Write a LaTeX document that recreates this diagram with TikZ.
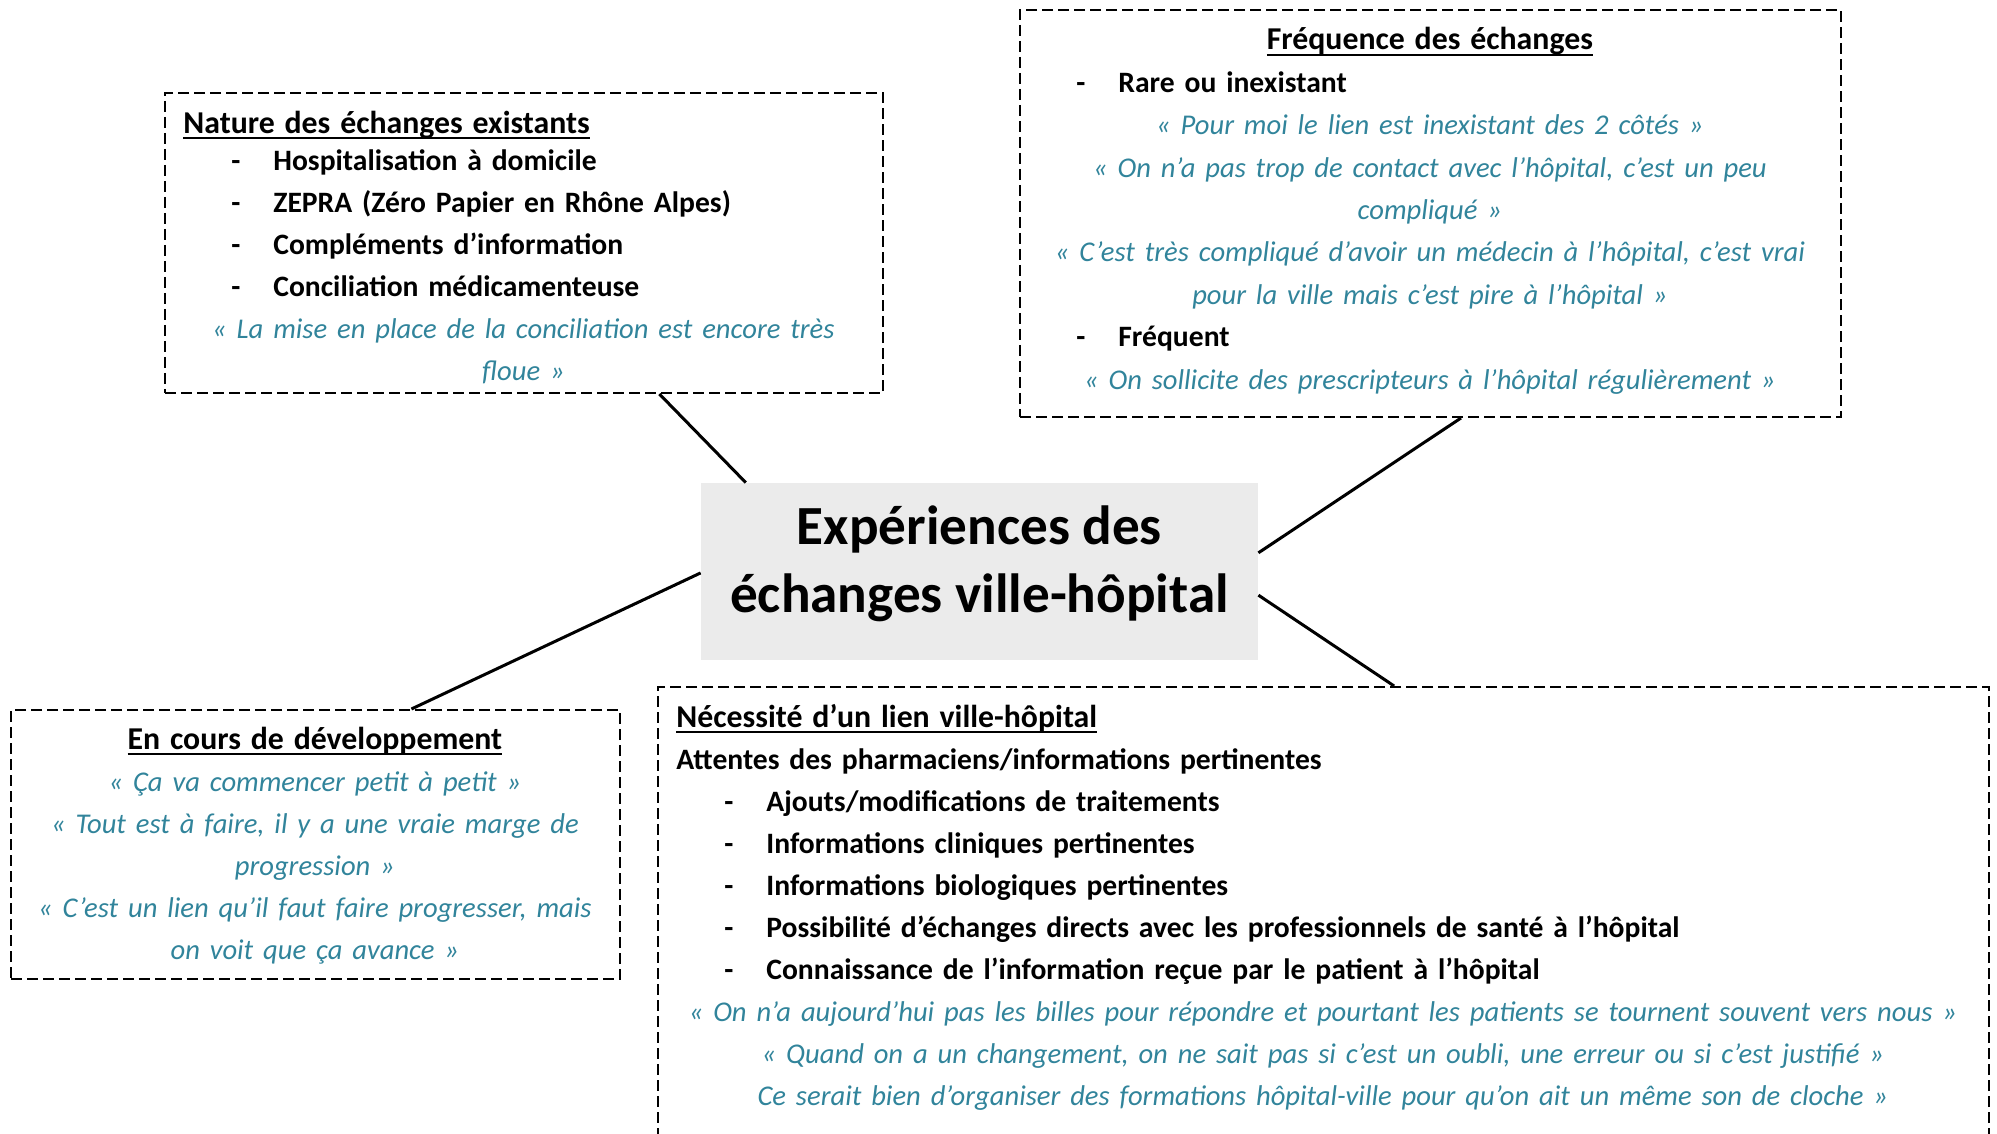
\documentclass[tikz,border=0pt]{standalone}
\usepackage{fontspec}
\setmainfont{Carlito}
\usetikzlibrary{calc}
\definecolor{citation}{HTML}{31849B}
\definecolor{fondgris}{HTML}{EBEBEB}
\frenchspacing
\newcommand\tiret[2][24pt]{\hspace*{#1}\makebox[21pt][l]{-}#2}
\newcommand\cit[1]{{\color{citation}\fontsize{14.3}{21}\mdseries\itshape\selectfont #1}}
\newcommand\cl[1]{\par\noindent\makebox[\hsize]{\cit{#1}}\par}
\newcommand\titre[1]{\leavevmode\setbox0\hbox{\fontsize{15.9}{21}\selectfont #1}\rlap{\rule[-2.8pt]{\wd0}{0.9pt}}\box0}
\newcommand\titrec[1]{\noindent\makebox[\hsize]{\titre{#1}}\par}

\begin{document}
\begin{tikzpicture}[x=0.5pt, y=-0.5pt,
  cadre/.style={draw, dash pattern=on 5.5pt off 2.5pt, line width=1pt, anchor=north west, inner sep=0pt},
  texte/.style={anchor=base west, inner sep=0pt, align=left, font=\fontsize{14.8}{21}\selectfont\bfseries},
  lien/.style={line width=1.5pt}]

  \useasboundingbox (0,0) rectangle (1997,1134);
  \clip (0,0) rectangle (1997,1134);

  % centre
  \node[fill=fondgris, minimum width=278.5pt, minimum height=88.5pt, inner sep=0pt] (centre) at (979.5,571.5) {};
  \node[align=center, inner sep=0pt, font=\fontsize{27.6}{34}\selectfont\bfseries] (centreTxt) at (979.5,563.5)
    {Expériences des\\échanges ville-hôpital};

  % nature des echanges
  \node[cadre, minimum width=359pt, minimum height=150pt] (nature) at (164,92) {};
  \node[texte, text width=340pt] (natureTxt) at (183,133.5) {%
    \titre{Nature des échanges existants}\par\vspace{-2.5pt}
    \tiret{Hospitalisation à domicile}\par
    \tiret{ZEPRA (Zéro Papier en Rhône Alpes)}\par
    \tiret{Compléments d’information}\par
    \tiret{Conciliation médicamenteuse}
    \cl{«~La mise en place de la conciliation est encore très}
    \cl{floue~»}};

  % frequence
  \node[cadre, minimum width=410.5pt, minimum height=203.5pt] (frequence) at (1019,9) {};
  \node[texte, text width=391.5pt, font=\fontsize{14.8}{21.2}\selectfont\bfseries] (frequenceTxt) at (1038,50) {%
    \titrec{Fréquence des échanges}
    \tiret[19pt]{Rare ou inexistant}
    \cl{«~Pour moi le lien est inexistant des 2 côtés~»}
    \cl{«~On n’a pas trop de contact avec l’hôpital, c’est un peu}
    \cl{compliqué~»}
    \cl{«~C’est très compliqué d’avoir un médecin à l’hôpital, c’est vrai}
    \cl{pour la ville mais c’est pire à l’hôpital~»}
    \tiret[19pt]{Fréquent}
    \cl{«~On sollicite des prescripteurs à l’hôpital régulièrement~»}};

  % developpement
  \node[cadre, minimum width=304.5pt, minimum height=134.5pt] (developpement) at (10,709) {};
  \node[texte, text width=285.5pt] (developpementTxt) at (29,749) {%
    \titrec{En cours de développement}
    \cl{«~Ça va commencer petit à petit~»}
    \cl{«~Tout est à faire, il y a une vraie marge de}
    \cl{progression~»}
    \cl{«~C’est un lien qu’il faut faire progresser, mais}
    \cl{on voit que ça avance~»}};

  % necessite
  \node[cadre, minimum width=665.5pt, minimum height=232.5pt] (necessite) at (657,686) {};
  \node[texte, text width=646.5pt] (necessiteTxt) at (676,727) {%
    \titre{Nécessité d’un lien ville-hôpital}\par
    Attentes des pharmaciens/informations pertinentes\par
    \tiret{Ajouts/modifications de traitements}\par
    \tiret{Informations cliniques pertinentes}\par
    \tiret{Informations biologiques pertinentes}\par
    \tiret{Possibilité d’échanges directs avec les professionnels de santé à l’hôpital}\par
    \tiret{Connaissance de l’information reçue par le patient à l’hôpital}
    \cl{«~On n’a aujourd’hui pas les billes pour répondre et pourtant les patients se tournent souvent vers nous~»}
    \cl{«~Quand on a un changement, on ne sait pas si c’est un oubli, une erreur ou si c’est justifié~»}
    \cl{Ce serait bien d’organiser des formations hôpital-ville pour qu’on ait un même son de cloche~»}};

  % liens
  \draw[lien] ($(nature.south west)!0.688!(nature.south east)$) -- ($(centre.north west)!0.081!(centre.north east)$);
  \draw[lien] ($(frequence.south west)!0.537!(frequence.south east)$) -- ($(centre.north east)!0.395!(centre.south east)$);
  \draw[lien] ($(developpement.north west)!0.657!(developpement.north east)$) -- ($(centre.north west)!0.508!(centre.south west)$);
  \draw[lien] ($(necessite.north west)!0.553!(necessite.north east)$) -- ($(centre.north east)!0.633!(centre.south east)$);
\end{tikzpicture}
\end{document}
